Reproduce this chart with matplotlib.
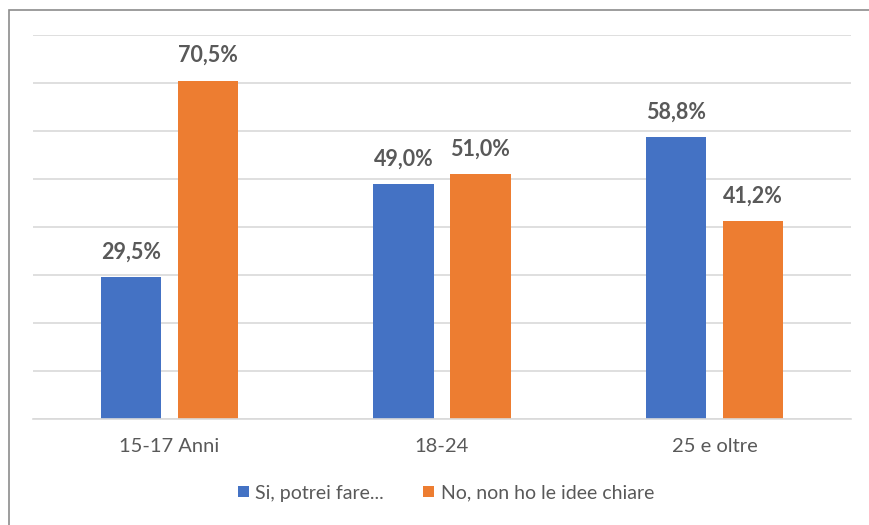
import matplotlib
matplotlib.use("Agg")
import matplotlib.pyplot as plt
from matplotlib.patches import Rectangle
import numpy as np

plt.rcParams["font.family"] = ["Lato", "DejaVu Sans"]

BLUE = "#4472C4"
ORANGE = "#ED7D31"
TEXT = "#595959"
GRID = "#D9D9D9"

categories = ["15-17 Anni", "18-24", "25 e oltre"]
series_names = ["Si, potrei fare...", "No, non ho le idee chiare"]
si_values = [29.5, 49.0, 58.8]
no_values = [70.5, 51.0, 41.2]

W, H = 869, 525
fig = plt.figure(figsize=(W / 100, H / 100), dpi=100)

# chart border (the right/bottom edges fall outside the canvas)
fig.patches.append(Rectangle((8.5 / W, -0.1), 1.2, 1.1 - 9.5 / H,
                             transform=fig.transFigure, fill=False,
                             edgecolor="#8C8C8C", lw=1.2))

left, right, top, bottom = 33, 851, 35, 419
ax = fig.add_axes([left / W, 1 - bottom / H, (right - left) / W, (bottom - top) / H])

x = np.arange(len(categories))
bw = 0.222
off = 0.141
b1 = ax.bar(x - off, si_values, bw, color=BLUE, label=series_names[0], zorder=2)
b2 = ax.bar(x + off, no_values, bw, color=ORANGE, label=series_names[1], zorder=2)

for bars, vals in ((b1, si_values), (b2, no_values)):
    for rect, v in zip(bars, vals):
        ax.text(rect.get_x() + rect.get_width() / 2, v + 3.0,
                f"{v:.1f}%".replace(".", ","), ha="center", va="bottom",
                fontsize=15.5, fontweight="bold", color=TEXT)

ax.set_xlim(-0.5, 2.5)
ax.set_ylim(0, 80)
ax.set_yticks(np.arange(0, 81, 10))
ax.yaxis.grid(True, color=GRID, lw=1.2, zorder=0)
ax.tick_params(axis="y", left=False, labelleft=False)
ax.tick_params(axis="x", bottom=False, labelsize=14.5, colors=TEXT, pad=10)
ax.set_xticks(x)
ax.set_xticklabels(categories)
for s in ("top", "right", "left"):
    ax.spines[s].set_visible(False)
ax.spines["bottom"].set_color(GRID)
ax.spines["bottom"].set_linewidth(1.2)

fig.legend(handles=[b1, b2], loc="center", bbox_to_anchor=(446 / W, 1 - 493 / H),
           ncol=2, frameon=False, fontsize=14, labelcolor=TEXT,
           handlelength=0.55, handleheight=0.55, handletextpad=0.35, columnspacing=2.0)

fig.savefig("out.png", dpi=100)
